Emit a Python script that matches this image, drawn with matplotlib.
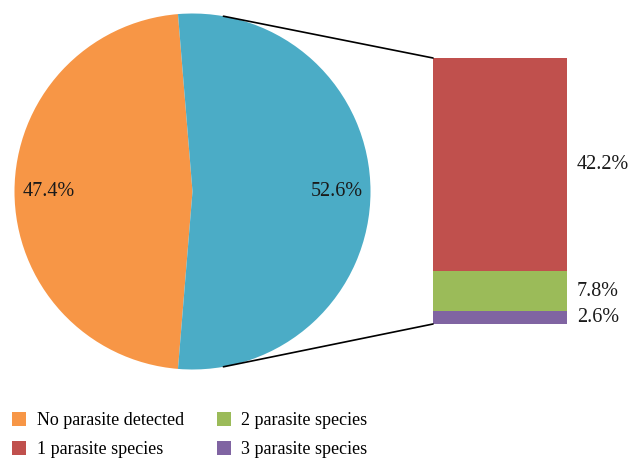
import matplotlib.pyplot as plt
from matplotlib.patches import ConnectionPatch
import numpy as np

plt.rcParams['font.family'] = ['Liberation Serif', 'DejaVu Serif']

pie_labels = ['No parasite detected', 'Parasite detected']
pie_values = [47.4, 52.6]
pie_colors = ['#F79646', '#4BACC6']

bar_labels = ['3 parasite species', '2 parasite species', '1 parasite species']
bar_values = [2.6, 7.8, 42.2]
bar_colors = ['#8064A2', '#9BBB59', '#C0504D']

W, H = 643, 476
fig = plt.figure(figsize=(W / 100, H / 100), dpi=100)

# pie axes, in pixel box (centre ~192,191, radius ~178)
cx, cy, r = 192.5, 191.5, 178
ax1 = fig.add_axes([(cx - r) / W, (H - cy - r) / H, 2 * r / W, 2 * r / H])
start = 180 * pie_values[1] / 100
wedges, _, autotexts = ax1.pie(pie_values, colors=pie_colors, startangle=start,
                               autopct='%1.1f%%', pctdistance=0.81,
                               textprops={'fontsize': 14.5, 'color': '#1a1a1a'},
                               wedgeprops={'linewidth': 0})
ax1.set_xlim(-1, 1)
ax1.set_ylim(-1, 1)
ax1.set_aspect('equal')

# bar of pie
bx0, bx1, by0, by1 = 433, 567, 58, 324
ax2 = fig.add_axes([bx0 / W, (H - by1) / H, (bx1 - bx0) / W, (by1 - by0) / H])
bottom = 0
for val, col in zip(bar_values, bar_colors):
    ax2.bar(0, val, width=1, bottom=bottom, color=col, linewidth=0)
    ax2.text(0.5 + 10 / (bx1 - bx0), bottom + val / 2, f'{val:.1f}%',
             ha='left', va='center', fontsize=14.5, color='#1a1a1a')
    bottom += val
ax2.set_xlim(-0.5, 0.5)
ax2.set_ylim(0, sum(bar_values))
ax2.axis('off')

# connecting lines
theta = np.deg2rad(80)
for y_bar, sgn in [(sum(bar_values), 1), (0, -1)]:
    con = ConnectionPatch(xyA=(-0.5, y_bar), coordsA=ax2.transData,
                          xyB=(np.cos(theta), sgn * np.sin(theta)), coordsB=ax1.transData,
                          color='black', linewidth=1.2)
    fig.add_artist(con)

# legend
handles = [wedges[0], ax2.patches[2], ax2.patches[1], ax2.patches[0]]
names = ['No parasite detected', '1 parasite species', '2 parasite species', '3 parasite species']
fig.legend(handles, names, ncol=2, loc='upper left',
           bbox_to_anchor=(12 / W, (H - 412) / H), frameon=False,
           fontsize=13, handlelength=0.78, handleheight=0.78,
           handletextpad=0.6, columnspacing=1.8, labelspacing=0.68,
           borderpad=0, borderaxespad=0)

fig.savefig('out.png', dpi=100)
